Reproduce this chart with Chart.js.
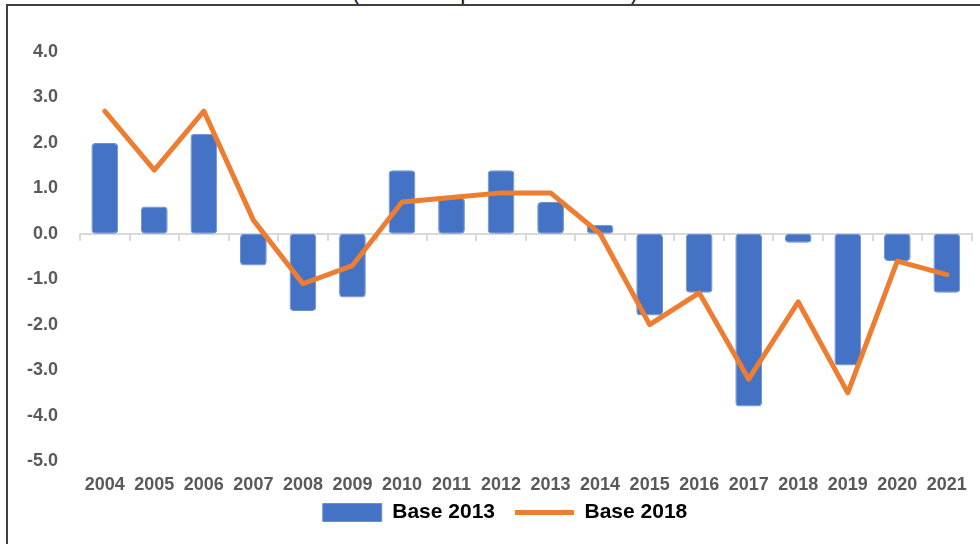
<!DOCTYPE html>
<html>
<head>
<meta charset="utf-8">
<script src="https://cdn.jsdelivr.net/npm/chart.js@4.4.1/dist/chart.umd.min.js"></script>
<style>
  html, body { margin: 0; padding: 0; background: #ffffff; overflow: hidden; }
  #wrap { position: relative; width: 980px; height: 544px; overflow: hidden; }
  #frame { position: absolute; left: 6px; top: 4px; width: 1200px; height: 800px;
           border-left: 2px solid #404040; border-top: 2px solid #404040; }
  #title { position: absolute; left: 352px; top: -19px; font-family: 'Liberation Sans', Arial, sans-serif;
           font-size: 23px; line-height: 23px; color: #1a1a1a; white-space: nowrap; }
  canvas { position: absolute; left: 0; top: 0; }
</style>
</head>
<body>
<div id="wrap">
  <div id="title">(Variación porcentual anual)</div>
  <div id="frame"></div>
  <canvas id="c" width="980" height="544"></canvas>
</div>
<script>
const years = ['2004','2005','2006','2007','2008','2009','2010','2011','2012','2013','2014','2015','2016','2017','2018','2019','2020','2021'];
const base2013 = [2.0, 0.6, 2.2, -0.7, -1.7, -1.4, 1.4, 0.8, 1.4, 0.7, 0.2, -1.8, -1.3, -3.8, -0.2, -2.9, -0.6, -1.3];
const base2018 = [2.7, 1.4, 2.7, 0.3, -1.1, -0.7, 0.7, 0.8, 0.9, 0.9, 0.0, -2.0, -1.3, -3.2, -1.5, -3.5, -0.6, -0.9];
const seriesNames = ['Base 2013', 'Base 2018'];
const yMin = -5;
const yMax = 4;
const yStep = 1;

Chart.defaults.font.family = "'Liberation Sans', Arial, sans-serif";

// Nudge the legend block (placement only)
const legendShift = {
  id: 'legendShift',
  afterUpdate(chart) {
    const lg = chart.legend;
    if (lg) { lg.top -= 14; lg.bottom -= 14; lg.left += 15; lg.right += 15; }
  }
};

new Chart(document.getElementById('c'), {
  type: 'bar',
  plugins: [legendShift],
  data: {
    labels: years,
    datasets: [
      {
        type: 'bar',
        label: seriesNames[0],
        data: base2013,
        backgroundColor: '#4472C4',
        borderColor: '#6a8fd2',
        borderWidth: 1,
        borderSkipped: false,
        borderRadius: 4,
        categoryPercentage: 1.0,
        barPercentage: 0.54,
        pointStyle: 'rect',
        order: 1
      },
      {
        type: 'line',
        label: seriesNames[1],
        data: base2018,
        borderColor: '#ED7D31',
        backgroundColor: '#ED7D31',
        borderWidth: 5,
        borderJoinStyle: 'round',
        borderCapStyle: 'round',
        pointRadius: 0,
        pointHoverRadius: 0,
        pointStyle: 'line',
        tension: 0,
        fill: false,
        order: 0
      }
    ]
  },
  options: {
    responsive: false,
    animation: false,
    devicePixelRatio: 1,
    layout: { padding: { left: 5, right: 5, top: 52, bottom: -3 } },
    plugins: {
      tooltip: { enabled: false },
      title: { display: false },
      legend: {
        display: true,
        position: 'bottom',
        labels: {
          usePointStyle: true,
          pointStyleWidth: 59,
          boxHeight: 18,
          padding: 20,
          color: '#000000',
          font: { size: 21, weight: 'bold' },
          sort: (a, b) => a.datasetIndex - b.datasetIndex
        }
      }
    },
    scales: {
      x: {
        type: 'category',
        position: 'bottom',
        offset: true,
        grid: { display: false, drawTicks: false },
        border: { display: false },
        ticks: {
          color: '#595959',
          font: { size: 18, weight: 'bold' },
          padding: 13,
          autoSkip: false,
          maxRotation: 0
        },
        afterFit: (scale) => { scale.height = 35; }
      },
      x2: {
        type: 'category',
        labels: years,
        position: { y: 0 },
        offset: true,
        grid: {
          display: true,
          offset: true,
          drawOnChartArea: false,
          drawTicks: true,
          tickLength: 6,
          color: '#d9d9d9',
          lineWidth: 2
        },
        border: { display: true, color: '#d9d9d9', width: 2 },
        ticks: { display: false }
      },
      y: {
        type: 'linear',
        min: yMin,
        max: yMax,
        grid: { display: false, drawTicks: false },
        border: { display: false },
        ticks: {
          stepSize: yStep,
          color: '#595959',
          font: { size: 18, weight: 'bold' },
          padding: 22,
          callback: (v) => Number(v).toFixed(1)
        }
      }
    }
  }
});
</script>
</body>
</html>
